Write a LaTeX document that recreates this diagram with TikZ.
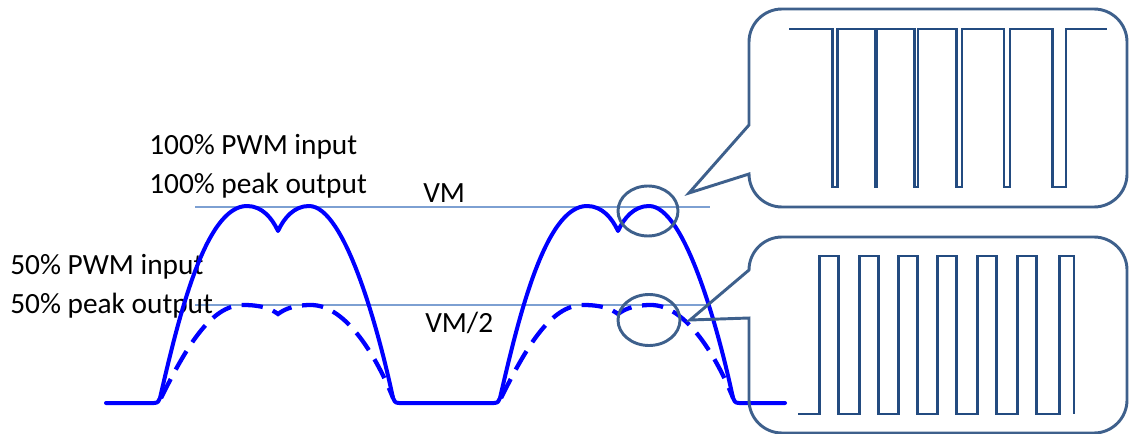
\documentclass[tikz,border=0pt]{standalone}
\usepackage{fontspec}
\setmainfont{Carlito}
\definecolor{wave}{RGB}{0,0,255}
\definecolor{refline}{RGB}{125,160,210}
\definecolor{callout}{RGB}{62,96,140}
\definecolor{pwm}{RGB}{35,75,128}
\begin{document}
\begin{tikzpicture}[x=0.75pt,y=-0.75pt,
  lbl/.style={inner sep=0pt,anchor=base west,font=\fontsize{22pt}{26pt}\selectfont},
  solidwave/.style={draw=wave,line width=3pt,line join=round,line cap=round},
  dashwave/.style={draw=wave,line width=3.2pt,dash pattern=on 16pt off 8pt},
  refl/.style={draw=refline,line width=1.1pt},
  callline/.style={draw=callout,line width=2.2pt,line join=miter},
  pwmline/.style={draw=pwm,line width=2.2pt,line join=miter}]
\useasboundingbox (0,0) rectangle (1130,434);

% reference levels
\coordinate (vmA) at (195,207);
\coordinate (vmB) at (710,207);
\coordinate (vhA) at (195,305);
\coordinate (vhB) at (710,305);
\draw[refl] (vmA) -- (vmB);
\draw[refl] (vhA) -- (vhB);

% labels
\node[lbl] (t1) at (149,155) {100\% PWM input};
\node[lbl] (t2) at (149,194) {100\% peak output};
\node[lbl] (t3) at (10,275) {50\% PWM input};
\node[lbl] (t4) at (10,313) {50\% peak output};
\node[lbl] (vm) at (423,203) {VM};
\node[lbl] (vm2) at (425,332) {VM/2};

% solid (100%) waveform
\draw[solidwave] (106,403) -- (154,403) .. controls (158,403) and (159,401) .. (160,398)
  .. controls (178,320) and (205,206) .. (247,206)
  .. controls (262,206) and (272,218) .. (278,231)
  .. controls (284,218) and (294,206) .. (309,206)
  .. controls (345,206) and (379,332) .. (393,398)
  .. controls (394,401) and (395,403) .. (399,403)
  -- (494,403) .. controls (498,403) and (499,401) .. (500,398)
  .. controls (518,320) and (545,206) .. (587,206)
  .. controls (602,206) and (612,218) .. (618,231)
  .. controls (624,218) and (634,206) .. (649,206)
  .. controls (685,206) and (719,332) .. (733,398)
  .. controls (734,401) and (735,403) .. (739,403)
  -- (785,403);

% dashed (50%) waveform
\draw[dashwave] (161,398)
  .. controls (185,350) and (210,305) .. (243,305)
  .. controls (260,305) and (270,308) .. (278,314)
  .. controls (286,308) and (296,305) .. (311,305)
  .. controls (347,305) and (378,360) .. (393,398);
\draw[dashwave] (501,398)
  .. controls (525,350) and (550,305) .. (583,305)
  .. controls (600,305) and (610,308) .. (618,314)
  .. controls (626,308) and (636,305) .. (651,305)
  .. controls (687,305) and (718,360) .. (733,398);

% ellipses
\draw[callline] (648,211) ellipse [x radius=30, y radius=25];
\draw[callline] (649,320) ellipse [x radius=31, y radius=25.5];

% top callout
\draw[callline] (749,174) -- (689,193) -- (749,125) -- (749,42)
  .. controls (749,23.8) and (763.8,9) .. (782,9) -- (1094,9)
  .. controls (1112.2,9) and (1127,23.8) .. (1127,42) -- (1127,174)
  .. controls (1127,192.2) and (1112.2,207) .. (1094,207) -- (782,207)
  .. controls (763.8,207) and (749,192.2) .. (749,174) -- cycle;

% bottom callout
\draw[callline] (749,318) -- (690,320) -- (749,270)
  .. controls (749,251.8) and (763.8,237) .. (782,237) -- (1094,237)
  .. controls (1112.2,237) and (1127,251.8) .. (1127,270) -- (1127,400)
  .. controls (1127,418.2) and (1112.2,433) .. (1094,433) -- (782,433)
  .. controls (763.8,433) and (749,418.2) .. (749,400) -- cycle;

% top PWM (high duty)
\draw[pwmline] (789,29) -- (832.5,29) -- (832.5,187) -- (837.5,187) -- (837.5,29)
  -- (875.5,29) -- (875.5,187) -- (877,187) -- (877,29)
  -- (914.5,29) -- (914.5,187) -- (918,187) -- (918,29)
  -- (956.5,29) -- (956.5,187) -- (962,187) -- (962,29)
  -- (1004,29) -- (1004,187) -- (1010,187) -- (1010,29)
  -- (1052.5,29) -- (1052.5,187) -- (1066,187) -- (1066,29)
  -- (1106.5,29);

% bottom PWM (50% duty)
\draw[pwmline] (798,414) -- (819.3,414) -- (819.3,256) -- (838.3,256) -- (838.3,414)
  -- (859.3,414) -- (859.3,256) -- (878.3,256) -- (878.3,414)
  -- (898.3,414) -- (898.3,256) -- (917.3,256) -- (917.3,414)
  -- (937.3,414) -- (937.3,256) -- (956.7,256) -- (956.7,414)
  -- (977.3,414) -- (977.3,256) -- (996.7,256) -- (996.7,414)
  -- (1017.3,414) -- (1017.3,256) -- (1036.7,256) -- (1036.7,414)
  -- (1059.3,414) -- (1059.3,256) -- (1074,256) -- (1074,414);
\end{tikzpicture}
\end{document}
